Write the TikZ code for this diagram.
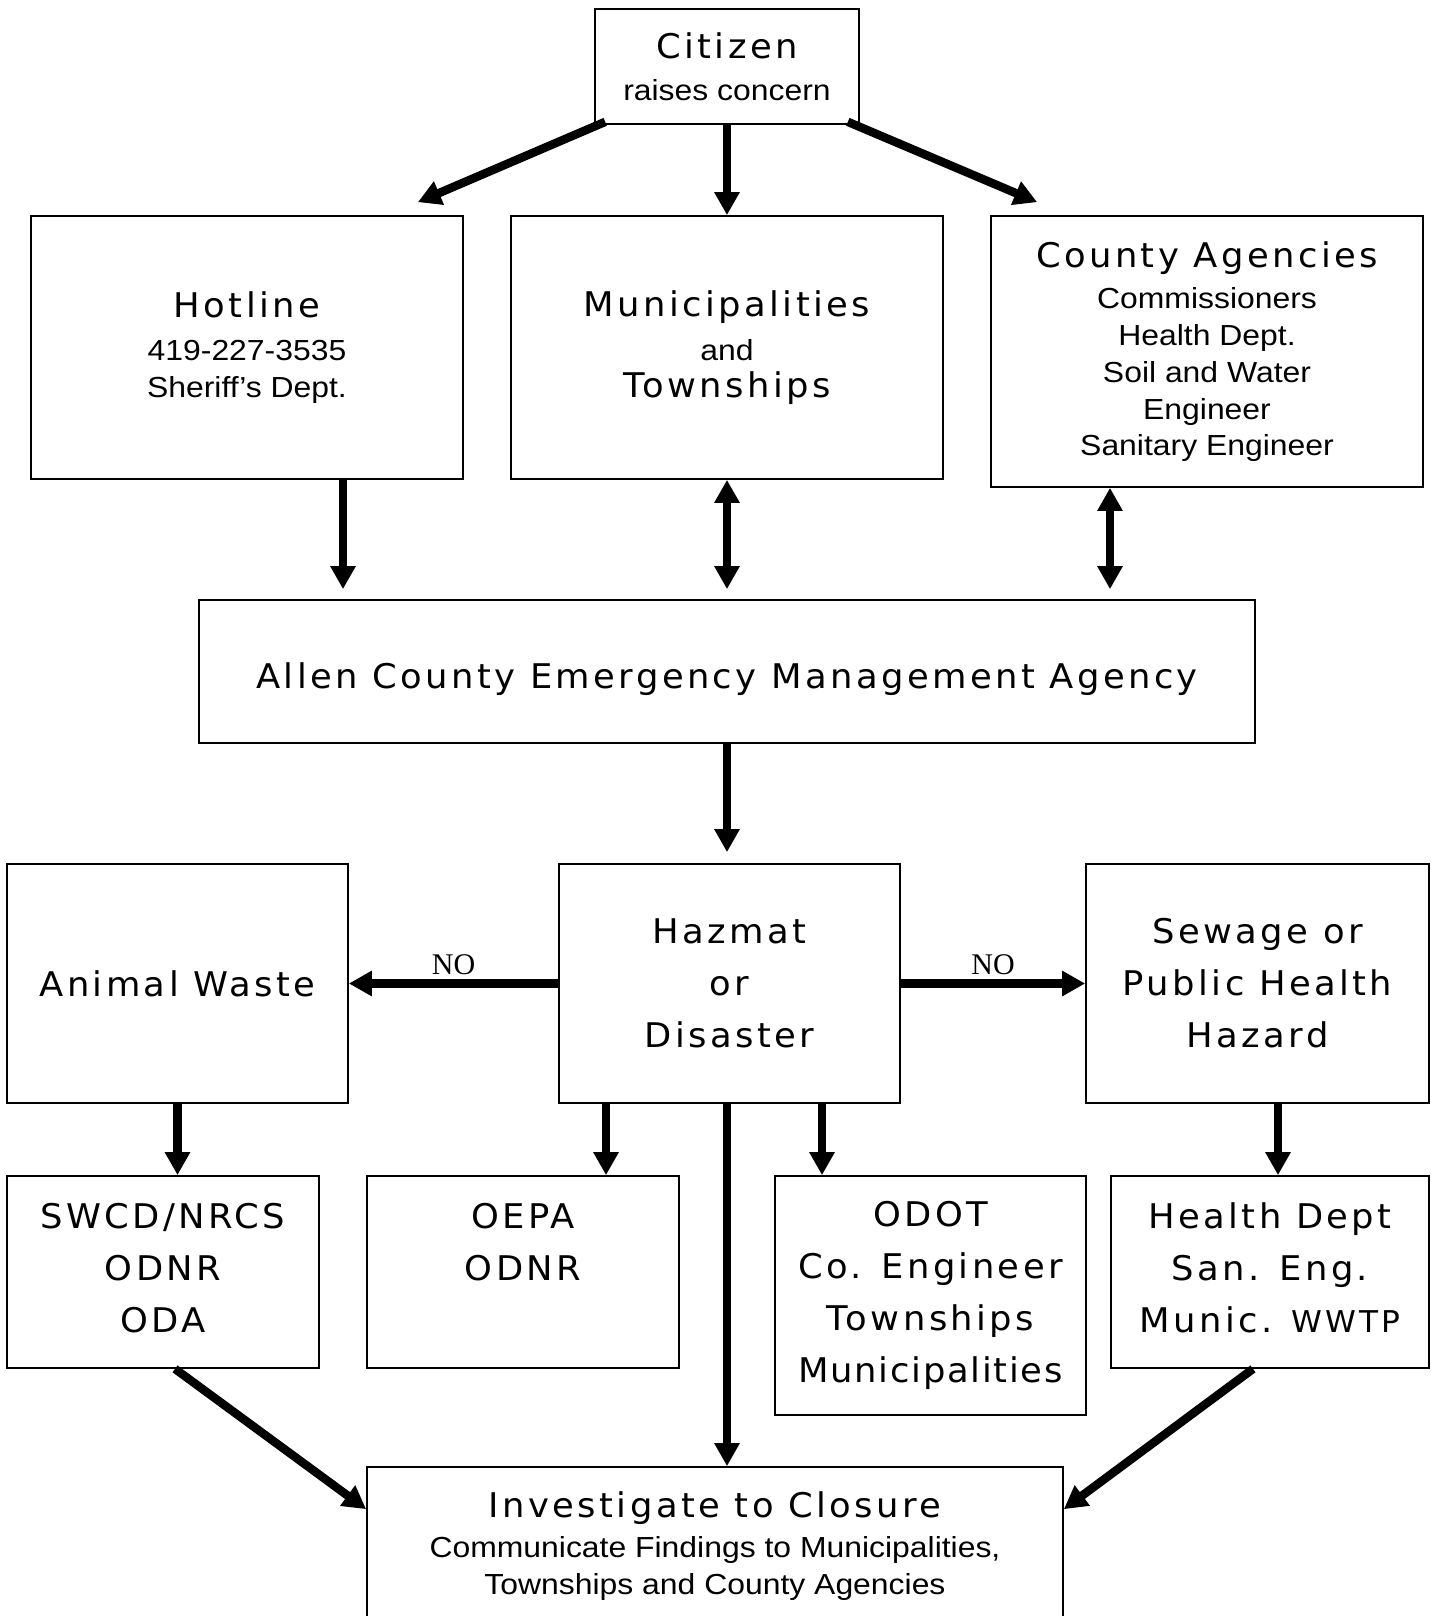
\documentclass[tikz,border=0pt]{standalone}
\usepackage{fontspec}
\usepackage{tikz}
\usetikzlibrary{arrows.meta}

\newfontfamily\boxheadfam{DejaVu Sans}[FakeStretch=1.04,LetterSpace=10]
\newfontfamily\boxsubfam{Liberation Sans}[FakeStretch=1.1]
\newfontfamily\nolabelfam{Liberation Serif}
\newcommand{\headtxt}{\boxheadfam\fontsize{17}{26}\selectfont}
\newcommand{\subtxt}{\boxsubfam\fontsize{14.5}{18.4}\selectfont}

\begin{document}
\begin{tikzpicture}[x=0.5pt,y=-0.5pt,
	box/.style={draw, line width=0.85pt, inner sep=0pt, align=center},
	headbox/.style={box, font=\headtxt},
	mixbox/.style={box, font=\subtxt},
	upbox/.style={headbox, text depth=4pt}]

\fill[white] (0,0) rectangle (1437,1616);
\useasboundingbox (0,0) rectangle (1437,1616);

\begin{scope}
	\node[mixbox, minimum width=132pt, minimum height=57.5pt] (citizen) at (727,66.5) {{\headtxt Citizen}\\[2.5pt] raises concern};
	
	\node[mixbox, minimum width=216pt, minimum height=131.5pt] (hotline) at (247,347.5) {{\headtxt Hotline}\\[3pt] 419-227-3535\\ Sheriff’s Dept.};
	\node[mixbox, minimum width=216pt, minimum height=131.5pt] (munic) at (727,347.5) {{\headtxt Municipalities}\\[3.5pt] and\\ {\headtxt Townships}};
	\node[mixbox, minimum width=216pt, minimum height=135.5pt] (county) at (1207,351.5) {{\headtxt County Agencies}\\[2.4pt] Commissioners\\ Health Dept.\\ Soil and Water\\ Engineer\\ Sanitary Engineer};
	
	\node[headbox, text height=21pt, minimum width=528pt, minimum height=71.5pt] (allen) at (727,671.5) {Allen County Emergency Management Agency};
	
	\node[headbox, minimum width=170.5pt, minimum height=119.5pt] (animal) at (177.5,983.5) {Animal Waste};
	\node[headbox, minimum width=170.5pt, minimum height=119.5pt] (hazmat) at (729.5,983.5) {Hazmat\\ or\\ Disaster};
	\node[headbox, minimum width=171.5pt, minimum height=119.5pt] (sewage) at (1257.5,983.5) {Sewage or\\ Public Health\\ Hazard};
	
	\node[upbox, minimum width=156pt, minimum height=96pt] (swcd) at (163,1272) {SWCD/NRCS\\ ODNR\\ ODA};
	\node[upbox, minimum width=156pt, minimum height=96pt] (oepa) at (523,1272) {OEPA\\ ODNR\\ \mbox{}};
	\node[headbox, minimum width=155.5pt, minimum height=119.5pt] (odot) at (930.5,1295.5) {ODOT\\ Co. Engineer\\ Townships\\ {\addfontfeature{LetterSpace=5}Municipalities}};
	\node[upbox, minimum width=159pt, minimum height=96pt] (health) at (1270,1272) {Health Dept\\ San. Eng.\\ Munic. {\fontsize{15}{26}\selectfont WWTP}};
	
	\node[mixbox, minimum width=348pt, minimum height=79pt] (invest) at (715,1546) {{\headtxt Investigate to Closure}\\[1.6pt] Communicate Findings to Municipalities,\\ Townships and County Agencies};
\end{scope}

\begin{scope}[>={Triangle[width=12pt,length=11.5pt]}, every edge/.style={draw=black, line width=4.25pt},
	nolabel/.style={above=2pt, inner sep=0pt, font=\nolabelfam\fontsize{15}{18}\selectfont}]

	\path [->] ([xshift=5.5pt,yshift=1.5pt]citizen.south west) edge ([xshift=-23pt,yshift=6.5pt]hotline.north east);
	\path [->] (citizen.south) edge (munic.north);
	\path [->] ([xshift=-6pt,yshift=1.5pt]citizen.south east) edge ([xshift=23.5pt,yshift=6.5pt]county.north west);
	
	\path [->] ([xshift=48pt]hotline.south) edge ([xshift=48pt,yshift=5pt]hotline.south |- allen.north);
	\path [<->] (munic.south) edge ([yshift=5pt]munic.south |- allen.north);
	\path [<->] ([xshift=-48.5pt]county.south) edge ([xshift=-48.5pt,yshift=5pt]county.south |- allen.north);
	
	\path [->] (allen.south) edge ([yshift=5.5pt]allen.south |- hazmat.north);
	
	\path [->] (hazmat.west) edge node[nolabel] {NO} (animal.east);
	\path [->] (hazmat.east) edge node[nolabel] {NO} (sewage.west);
	
	\path [->] (animal.south) edge (animal.south |- swcd.north);
	\path [->] ([xshift=-61.75pt]hazmat.south) edge ([xshift=-61.75pt]hazmat.south |- oepa.north);
	\path [->] ([xshift=46.25pt]hazmat.south) edge ([xshift=46.25pt]hazmat.south |- odot.north);
	\path [->] ([xshift=-1.25pt]hazmat.south) edge ([xshift=-1.25pt]hazmat.south |- invest.north);
	\path [->] ([xshift=10.25pt]sewage.south) edge ([xshift=10.25pt]sewage.south |- health.north);
	
	\path [->] ([xshift=6pt]swcd.south) edge ([yshift=-21.5pt]invest.north west);
	\path [->] ([xshift=-8.5pt]health.south) edge ([yshift=-21.5pt]invest.north east);
\end{scope}

\end{tikzpicture}
\end{document}
